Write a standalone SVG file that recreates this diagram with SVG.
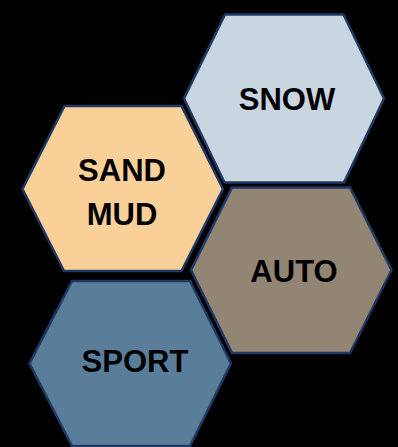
<svg xmlns="http://www.w3.org/2000/svg" width="398" height="447" viewBox="0 0 398 447">
  <style>
    .hex { stroke: #1F3864; stroke-width: 2.5; stroke-linejoin: miter; }
    .lbl { font-family: "Liberation Sans", Arial, sans-serif; font-weight: bold; font-size: 31px; fill: #000; text-anchor: middle; }
  </style>
  <rect x="0" y="0" width="398" height="447" fill="#000"/>
  <g id="snow">
    <polygon class="hex" fill="#CAD5E2" points="225,14.5 343.5,14.5 384,98.5 344,182.5 224.5,182.5 184,98.5"/>
    <text class="lbl" x="287" y="110">SNOW</text>
  </g>
  <g id="sand-mud">
    <polygon class="hex" fill="#F9D097" points="64.5,106 181.5,106 223,189 181.5,271 64,271 22.5,189"/>
    <text class="lbl" x="122" y="181">SAND</text>
    <text class="lbl" x="122" y="225">MUD</text>
  </g>
  <g id="auto">
    <polygon class="hex" fill="#928573" points="232,187.5 350,187.5 391.5,270 350,353 232,353 191,270"/>
    <text class="lbl" x="294" y="282">AUTO</text>
  </g>
  <g id="sport">
    <polygon class="hex" fill="#5A7E9A" points="72,281 190,281 231,363.5 190,446 72,446 29.5,363.5"/>
    <text class="lbl" x="135" y="371.5">SPORT</text>
  </g>
  <g id="connectors"></g>
</svg>
